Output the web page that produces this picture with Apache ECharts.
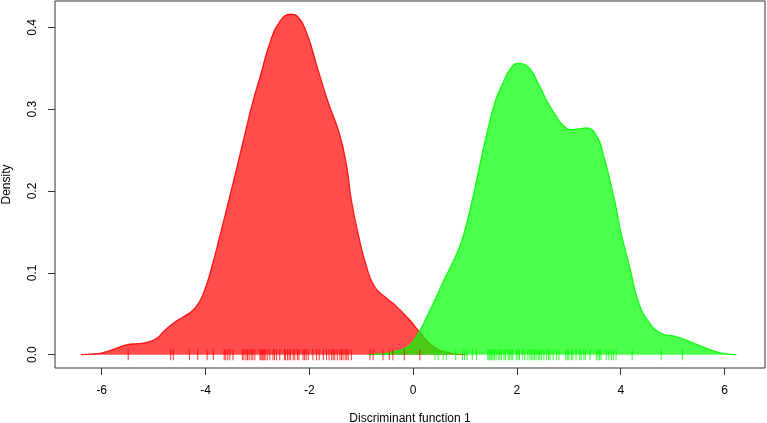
<!DOCTYPE html>
<html>
<head>
<meta charset="utf-8">
<script src="https://cdn.jsdelivr.net/npm/echarts@6/dist/echarts.min.js"></script>
<style>html,body{margin:0;padding:0;background:#fff;}#c{width:767px;height:423px;}</style>
</head>
<body>
<div id="c"></div>
<script>
// Density curve of group 1 (red): [x, density]
var redCurve = [
  [-6.40,0],[-6.15,0.001],[-5.97,0.0025],[-5.71,0.008],[-5.52,0.012],[-5.30,0.0135],
  [-5.13,0.015],[-4.94,0.020],[-4.81,0.028],[-4.59,0.040],[-4.43,0.046],[-4.20,0.057],
  [-4.04,0.075],[-3.88,0.107],[-3.72,0.146],[-3.55,0.189],[-3.39,0.230],[-3.24,0.270],
  [-3.08,0.311],[-2.95,0.339],[-2.76,0.381],[-2.57,0.407],[-2.36,0.416],[-2.22,0.413],
  [-2.05,0.393],[-1.85,0.352],[-1.65,0.311],[-1.42,0.270],[-1.28,0.230],[-1.19,0.189],
  [-1.06,0.148],[-0.90,0.108],[-0.74,0.083],[-0.51,0.069],[-0.32,0.059],[-0.06,0.042],
  [0.12,0.028],[0.39,0.010],[0.71,0.002],[1.03,0]
];
// Density curve of group 2 (green)
var greenCurve = [
  [-0.85,0],[-0.60,0.001],[-0.35,0.004],[-0.10,0.0098],[0.10,0.026],[0.26,0.046],
  [0.42,0.067],[0.57,0.088],[0.71,0.106],[0.87,0.128],[0.98,0.148],[1.14,0.189],
  [1.28,0.230],[1.42,0.270],[1.59,0.311],[1.73,0.332],[1.86,0.348],[2.02,0.356],
  [2.19,0.353],[2.44,0.328],[2.56,0.312],[2.72,0.295],[2.88,0.281],[3.05,0.275],
  [3.20,0.276],[3.34,0.277],[3.53,0.268],[3.66,0.246],[3.88,0.189],[4.01,0.148],
  [4.17,0.108],[4.33,0.067],[4.52,0.042],[4.78,0.026],[5.07,0.022],[5.33,0.016],
  [5.65,0.0078],[5.97,0.0017],[6.23,0]
];
// Rug (observations) of group 1
var redRug = [-5.49,-4.67,-4.62,-4.31,-4.15,-3.97,-3.85,-3.64,-3.61,-3.57,-3.53,-3.47,
  -3.29,-3.26,-3.22,-3.19,-3.16,-3.12,-3.09,-3.05,-2.95,-2.93,-2.91,-2.89,-2.87,-2.85,
  -2.81,-2.76,-2.70,-2.67,-2.63,-2.57,-2.48,-2.46,-2.42,-2.39,-2.36,-2.31,-2.28,-2.23,
  -2.20,-2.12,-2.09,-2.06,-2.02,-1.93,-1.86,-1.81,-1.73,-1.67,-1.62,-1.57,-1.54,-1.51,
  -1.46,-1.41,-1.38,-1.35,-1.31,-1.28,-1.25,-1.19,-0.83,-0.77,-0.58,-0.46,-0.39,-0.17,0.13];
// Rug (observations) of group 2
var greenRug = [0.42,0.48,0.58,0.64,0.82,0.95,0.99,1.04,1.14,1.22,1.44,1.46,1.48,1.50,
  1.52,1.54,1.57,1.60,1.64,1.67,1.70,1.75,1.78,1.83,1.86,1.89,1.92,1.99,2.02,2.05,2.11,
  2.15,2.21,2.25,2.28,2.31,2.34,2.37,2.41,2.44,2.47,2.52,2.57,2.61,2.64,2.70,2.76,2.81,
  2.94,2.97,3.00,3.05,3.08,3.14,3.21,3.24,3.29,3.32,3.41,3.53,3.56,3.59,3.62,3.72,3.77,
  3.82,3.86,3.91,4.22,4.78,5.19];
var xTicks = [-6,-4,-2,0,2,4,6];
var yTicks = [0,0.1,0.2,0.3,0.4];

var FONT = 'Liberation Sans, Arial, sans-serif';
var chart = echarts.init(document.getElementById('c'), null, {renderer:'canvas'});
chart.setOption({
  animation:false,
  backgroundColor:'#fff',
  grid:{left:55,right:2,top:1,bottom:55,containLabel:false,outerBoundsMode:'none',
    show:true,borderColor:'#333',borderWidth:1,backgroundColor:'transparent'},
  xAxis:{
    type:'value',min:-6.9,max:6.78,
    axisLine:{show:false,onZero:false},
    splitLine:{show:false},
    axisTick:{show:true,customValues:xTicks,length:7,lineStyle:{color:'#333',width:1}},
    axisLabel:{customValues:xTicks,color:'#000',fontSize:12,fontFamily:FONT,margin:17,
      formatter:function(v){return String(v);}},
    name:'Discriminant function 1',nameLocation:'middle',nameGap:45,
    nameTextStyle:{color:'#000',fontSize:12,fontFamily:FONT}
  },
  yAxis:{
    type:'value',min:-0.0163,max:0.4322,
    axisLine:{show:false,onZero:false},
    splitLine:{show:false},
    axisTick:{show:true,customValues:yTicks,length:7,lineStyle:{color:'#333',width:1}},
    axisLabel:{customValues:yTicks,color:'#000',fontSize:12,fontFamily:FONT,margin:16,rotate:90,
      formatter:function(v){return v.toFixed(1);}},
    name:'Density',nameLocation:'middle',nameGap:42,
    nameTextStyle:{color:'#000',fontSize:12,fontFamily:FONT}
  },
  series:[
    {type:'line',data:redCurve,smooth:0.5,showSymbol:false,symbol:'none',
      lineStyle:{color:'rgba(255,0,0,0.85)',width:1.3},
      areaStyle:{color:'#ff0000',opacity:0.7},z:2},
    {type:'line',data:greenCurve,smooth:0.5,showSymbol:false,symbol:'none',
      lineStyle:{color:'rgba(0,255,0,0.85)',width:1.3},
      areaStyle:{color:'#00ff00',opacity:0.7},z:3},
    {type:'scatter',data:redRug.map(function(v){return [v,0];}),symbol:'rect',symbolSize:[1,11],
      itemStyle:{color:'#ff0000'},silent:true,z:4},
    {type:'scatter',data:greenRug.map(function(v){return [v,0];}),symbol:'rect',symbolSize:[1,11],
      itemStyle:{color:'#00ff00'},silent:true,z:5}
  ]
});
</script>
</body>
</html>
